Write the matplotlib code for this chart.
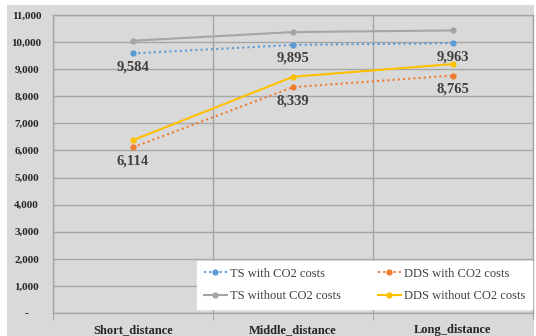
import matplotlib
matplotlib.use("Agg")

import matplotlib.pyplot as plt
from matplotlib.patches import Rectangle
from matplotlib.ticker import FuncFormatter, MultipleLocator

categories = ["Short_distance", "Middle_distance", "Long_distance"]

ts_with_co2 = [9584, 9895, 9963]
dds_with_co2 = [6114, 8339, 8765]
ts_without_co2 = [10050, 10370, 10430]
dds_without_co2 = [6380, 8720, 9190]

plt.rcParams["font.family"] = ["Liberation Serif", "DejaVu Serif"]

bg = "#d9d9d9"
grid_col = "#a6a6a6"
text_col = "#262626"

fig = plt.figure(figsize=(5.36, 3.36), dpi=100, facecolor="white")

# gray chart area (white margin top/left/right like the original)
fig.patches.append(
    Rectangle((7 / 536, 0), (534 - 7) / 536, (336 - 5) / 336,
              transform=fig.transFigure, facecolor=bg, edgecolor="none", zorder=-10)
)

ax = fig.add_axes([53 / 536, (336 - 313) / 336, (533 - 53) / 536, (313 - 15) / 336])
ax.set_facecolor(bg)

x = [0.5, 1.5, 2.5]

ax.plot(x, ts_with_co2, color="#5b9bd5", linestyle=(0, (1, 1.5)), lw=1.5,
        marker="o", ms=3.5, label="TS with CO2 costs", zorder=4)
ax.plot(x, ts_without_co2, color="#a5a5a5", linestyle="-", lw=1.5,
        marker="o", ms=3.5, label="TS without CO2 costs", zorder=3)
ax.plot(x, dds_with_co2, color="#ed7d31", linestyle=(0, (1, 1.5)), lw=1.5,
        marker="o", ms=3.5, label="DDS with CO2 costs", zorder=4)
ax.plot(x, dds_without_co2, color="#ffc000", linestyle="-", lw=1.5,
        marker="o", ms=3.5, label="DDS without CO2 costs", zorder=3)

# data labels under the "with CO2" points
for xi, v in zip(x, ts_with_co2):
    ax.annotate(f"{v:,}", (xi, v), xytext=(0, -5), textcoords="offset points",
                ha="center", va="top", fontsize=10.5, fontweight="bold", color="#404040")
for xi, v in zip(x, dds_with_co2):
    ax.annotate(f"{v:,}", (xi, v), xytext=(0, -5), textcoords="offset points",
                ha="center", va="top", fontsize=10.5, fontweight="bold", color="#404040")

ax.set_xlim(0, 3)
ax.set_ylim(0, 11000)
ax.yaxis.set_major_locator(MultipleLocator(1000))
ax.yaxis.set_major_formatter(FuncFormatter(lambda v, p: "-" if v == 0 else f"{int(v):,}"))

ax.set_xticks([0, 1, 2, 3])
ax.set_xticklabels([])
ax.set_xticks(x, minor=True)
ax.set_xticklabels(categories, minor=True)
ax.tick_params(axis="x", which="minor", length=0, pad=8)
ax.tick_params(axis="x", which="major", length=5, color=grid_col, direction="out")
ax.tick_params(axis="y", length=0, pad=19)

for lab in ax.get_xticklabels(minor=True):
    lab.set_fontweight("bold")
    lab.set_fontsize(9)
    lab.set_color(text_col)
for lab in ax.get_yticklabels():
    lab.set_fontweight("bold")
    lab.set_fontsize(8)
    lab.set_color(text_col)
    lab.set_horizontalalignment("center")

ax.grid(True, which="major", color=grid_col, lw=1)
ax.set_axisbelow(True)
for s in ax.spines.values():
    s.set_color(grid_col)
    s.set_linewidth(1)

leg = ax.legend(ncol=2, loc="lower right", bbox_to_anchor=(0.998, 0.013),
                borderaxespad=0, fontsize=9, frameon=True, fancybox=False,
                framealpha=1, edgecolor="white", facecolor="white",
                handlelength=1.8, handletextpad=0.25, columnspacing=3.0,
                labelspacing=0.85, borderpad=0.55)
for t in leg.get_texts():
    t.set_color("#404040")

fig.savefig("out.png", dpi=100, facecolor="white")
